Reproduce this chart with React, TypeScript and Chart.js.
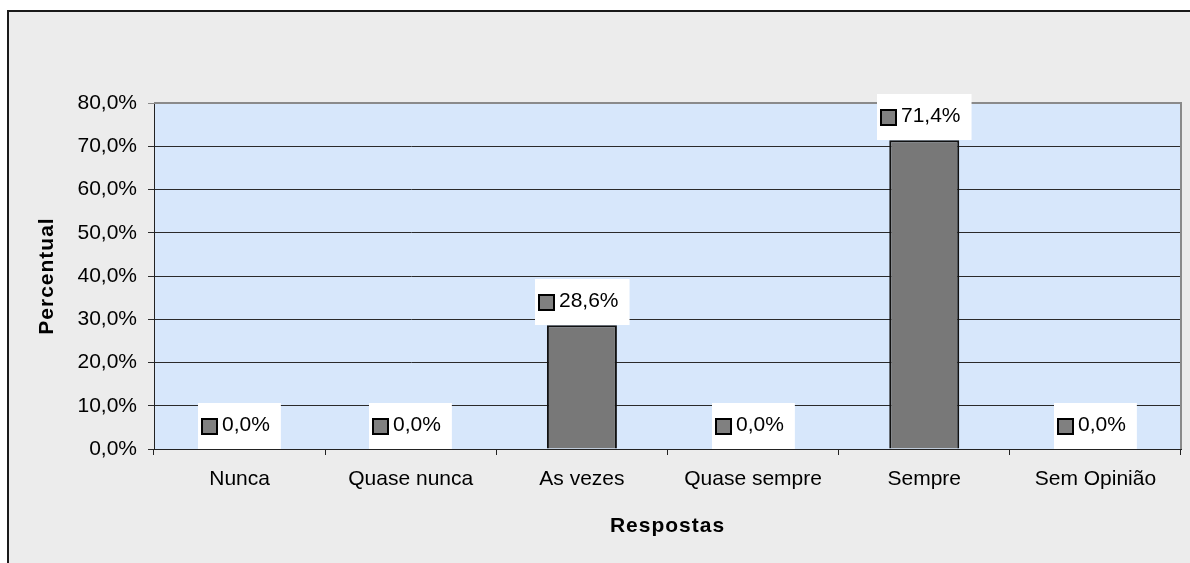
import React, { useEffect, useRef } from "react";
import { Chart, registerables } from "chart.js";

Chart.register(...registerables);

const categories = ["Nunca", "Quase nunca", "As vezes", "Quase sempre", "Sempre", "Sem Opinião"];
const percentValues = [0, 0, 28.6, 0, 71.4, 0];
const yMin = 0;
const yMax = 80;
const yStep = 10;
const xTitle = "Respostas";
const yTitle = "Percentual";

const FONT = '"Liberation Sans", Arial, sans-serif';
const FONT_SIZE = 21;

const fmt = (v: number) => v.toFixed(1).replace(".", ",") + "%";

const decorPlugin = {
  id: "decor",
  beforeDraw(chart: any) {
    const { ctx, width, height, chartArea: a } = chart;
    ctx.save();
    ctx.fillStyle = "#ffffff";
    ctx.fillRect(0, 0, width, height);
    ctx.fillStyle = "#ececec";
    ctx.fillRect(7, 10, width - 7, height - 10);
    ctx.fillStyle = "#1a1a1a";
    ctx.fillRect(7, 10, 2, height - 10);
    ctx.fillRect(7, 10, width - 7, 2);
    ctx.fillStyle = "#d7e7fb";
    ctx.fillRect(a.left, a.top, a.right - a.left, a.bottom - a.top);
    ctx.restore();
  },
  afterDatasetsDraw(chart: any) {
    const { ctx, chartArea: a } = chart;
    const ys = chart.scales.y;
    ctx.save();
    // plot border (top / right)
    ctx.strokeStyle = "#8a8a8a";
    ctx.lineWidth = 2;
    ctx.beginPath();
    ctx.moveTo(a.left, a.top);
    ctx.lineTo(a.right, a.top);
    ctx.lineTo(a.right, a.bottom);
    ctx.stroke();

    // data labels
    ctx.font = `${FONT_SIZE}px ${FONT}`;
    ctx.textBaseline = "middle";
    ctx.textAlign = "left";
    const meta = chart.getDatasetMeta(0);
    meta.data.forEach((bar: any, i: number) => {
      const v = percentValues[i];
      const text = fmt(v);
      const tw = ctx.measureText(text).width;
      const sq = 15;
      const w = 3 + sq + 6 + tw + 11;
      const h = 46;
      const x0 = Math.round(bar.x - w / 2);
      const y1 = Math.round(ys.getPixelForValue(v));
      const y0 = y1 - h;
      ctx.fillStyle = "#ffffff";
      ctx.fillRect(x0, y0, w, h);
      const sx = x0 + 4;
      const sy = Math.round(y0 + h / 2 - sq / 2);
      ctx.fillStyle = "#808080";
      ctx.fillRect(sx, sy, sq, sq);
      ctx.strokeStyle = "#000000";
      ctx.lineWidth = 2;
      ctx.strokeRect(sx, sy, sq, sq);
      ctx.fillStyle = "#000000";
      ctx.fillText(text, sx + sq + 5, y0 + h / 2 - 1);
    });

    // axis titles
    ctx.font = `bold ${FONT_SIZE}px ${FONT}`;
    ctx.textAlign = "center";
    ctx.textBaseline = "middle";
    ctx.fillStyle = "#000000";
    try {
      (ctx as any).letterSpacing = "1px";
    } catch (e) {}
    ctx.fillText(xTitle, (a.left + a.right) / 2, 526);
    ctx.translate(47, (a.top + a.bottom) / 2);
    ctx.rotate(-Math.PI / 2);
    ctx.fillText(yTitle, 0, 0);
    ctx.restore();
  },
};

export default function App() {
  const ref = useRef<HTMLCanvasElement | null>(null);

  useEffect(() => {
    if (!ref.current) return;
    const chart = new Chart(ref.current, {
      type: "bar",
      data: {
        labels: categories,
        datasets: [
          {
            data: percentValues,
            backgroundColor: "#787878",
            borderColor: "#111111",
            borderWidth: 2,
            categoryPercentage: 1,
            barPercentage: 0.409,
          },
        ],
      },
      options: {
        animation: false,
        responsive: false,
        layout: { padding: { left: 0, top: 103, right: 9, bottom: 0 } },
        plugins: {
          legend: { display: false },
          tooltip: { enabled: false },
        },
        scales: {
          x: {
            offset: true,
            grid: {
              display: true,
              offset: true,
              drawOnChartArea: false,
              drawTicks: true,
              tickLength: 6,
              color: "#222222",
            },
            border: { display: true, color: "#222222", width: 1 },
            ticks: {
              color: "#000000",
              padding: 12,
              maxRotation: 0,
              font: { family: FONT, size: FONT_SIZE },
            },
            afterFit: (s: any) => {
              s.height = 114;
            },
          },
          y: {
            min: yMin,
            max: yMax,
            grid: {
              color: (c: any) => (c.tick && c.tick.value === yMax ? "#8a8a8a" : "#2a2a2a"),
              tickLength: 6,
              drawTicks: true,
            },
            border: { display: true, color: "#222222", width: 1 },
            ticks: {
              stepSize: yStep,
              color: "#000000",
              padding: 11,
              font: { family: FONT, size: FONT_SIZE },
              callback: (v: any) => fmt(Number(v)),
            },
            afterFit: (s: any) => {
              s.width = 154;
            },
          },
        },
      },
      plugins: [decorPlugin],
    } as any);
    return () => chart.destroy();
  }, []);

  return (
    <div style={{ position: "fixed", left: 0, top: 0, width: 1190, height: 563, overflow: "hidden" }}>
      <canvas ref={ref} width={1190} height={563} style={{ width: 1190, height: 563, display: "block" }} />
    </div>
  );
}
